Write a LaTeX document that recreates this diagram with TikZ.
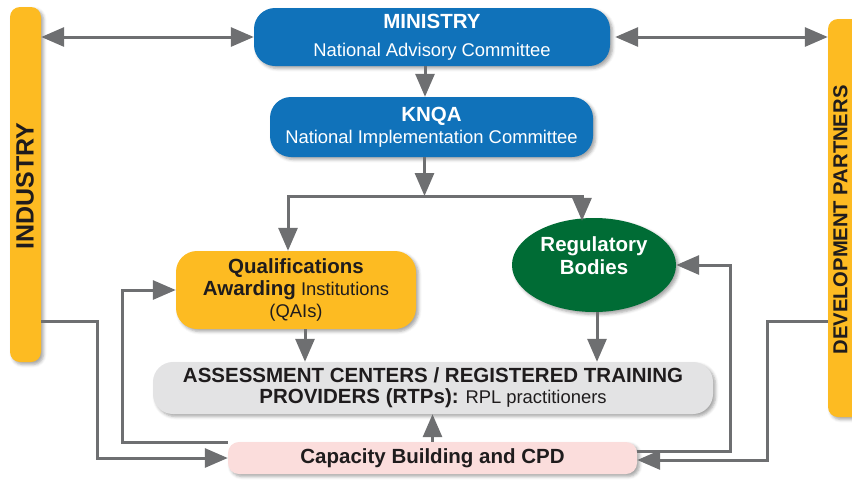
\documentclass[tikz,border=0pt]{standalone}
\usepackage{fontspec}
\setmainfont{Liberation Sans}
\usetikzlibrary{arrows.meta,shapes.geometric,shadows.blur}

\definecolor{kblue}{HTML}{1072BA}
\definecolor{kyellow}{HTML}{FDBB22}
\definecolor{kgreen}{HTML}{006C35}
\definecolor{kgrey}{HTML}{E3E3E4}
\definecolor{kpink}{HTML}{FBDDDC}
\definecolor{arrowgrey}{HTML}{6E6F71}
\definecolor{ink}{HTML}{1F1C1D}

\newcommand{\bigbold}[1]{{\bfseries\fontsize{20.5}{22}\selectfont #1}}

\tikzset{
  tip/.tip={Triangle[length=23pt,width=19pt]},
  flow/.style={draw=arrowgrey, line width=3pt, -tip},
  twoway/.style={draw=arrowgrey, line width=3pt, tip-tip},
  softshadow/.style={blur shadow={shadow xshift=2.5pt, shadow yshift=-2.5pt,
      shadow blur radius=3pt, shadow opacity=35}},
  label text/.style={align=center, inner sep=0pt, text=ink,
      font=\fontsize{18.4}{22}\selectfont},
  panel/.style={softshadow, label text},
  bar/.style={softshadow, fill=kyellow, rounded corners=10pt, inner sep=0pt},
  bartext/.style={text=ink, font=\bfseries, inner sep=0pt}
}

\begin{document}
\begin{tikzpicture}[x=1pt, y=-1pt]
  \useasboundingbox (0,0) rectangle (852,480);
  \clip (0,0) rectangle (852,480);

  % side bars
  \node[bar, minimum width=31pt, minimum height=355pt] (ind) at (25.5,184.5) {};
  \node[bartext, rotate=90, font=\bfseries\fontsize{25}{25}\selectfont] (indlabel) at (25,186) {INDUSTRY};
  \node[bar, minimum width=48pt, minimum height=398pt] (dev) at (852,218) {};
  \node[bartext, rotate=90, font=\bfseries\fontsize{20.2}{20}\selectfont] (devlabel) at (840.5,220) {DEVELOPMENT PARTNERS};

  % governance boxes
  \node[panel, fill=kblue, text=white, rounded corners=21pt,
        minimum width=356pt, minimum height=58pt,
        font=\fontsize{18.4}{28}\selectfont] (min) at (432,37)
        {\bigbold{MINISTRY}\\National Advisory Committee};
  \node[panel, fill=kblue, text=white, rounded corners=21pt,
        minimum width=323pt, minimum height=60pt] (knqa) at (431.5,127)
        {\bigbold{KNQA}\\National Implementation Committee};

  % second level
  \node[panel, fill=kyellow, rounded corners=21pt,
        minimum width=240pt, minimum height=78pt] (qai) at (296,290)
        {\bigbold{Qualifications}\\\bigbold{Awarding} Institutions\\(QAIs)};
  \node[softshadow, ellipse, fill=kgreen, inner sep=0pt,
        minimum width=164pt, minimum height=94pt] (reg) at (594,265) {};
  \node[label text, text=white, font=\bfseries\fontsize{20.5}{23}\selectfont] (regtext) at (594,256)
        {Regulatory\\Bodies};

  % delivery level
  \node[panel, fill=kgrey, rounded corners=20pt,
        minimum width=560pt, minimum height=52pt,
        font=\fontsize{18.4}{21}\selectfont] (assess) at (433,388)
        {\bigbold{ASSESSMENT CENTERS / REGISTERED TRAINING}\\
         \bigbold{PROVIDERS (RTPs):} RPL practitioners};
  \node[panel, fill=kpink, rounded corners=11pt,
        minimum width=409pt, minimum height=32pt] (cap) at (432.5,458)
        {\bigbold{Capacity Building and CPD}};

  % links with the side partners
  \draw[twoway] (min.west) -- (min.west -| ind.east);
  \draw[twoway] ([xshift=5pt]min.east) -- (min.east -| dev.west);

  % top-down flow
  \draw[flow] ([xshift=-7pt]min.south) -- ([xshift=-7pt]min.south |- knqa.north);
  \coordinate (split) at (424.5,196);
  \draw[flow] ([xshift=-7pt]knqa.south) -- (split);
  \draw[flow] (split) -| ([xshift=-8pt]qai.north);
  \draw[flow] (split) -| ([xshift=-12pt,yshift=-3pt]reg.north);
  \draw[flow] ([xshift=9pt]qai.south) -- ([xshift=9pt]qai.south |- assess.north);
  \draw[flow] ([xshift=3pt]reg.south) -- ([xshift=3pt]reg.south |- assess.north);
  \draw[flow] (cap.north) -- (cap.north |- assess.south);

  % capacity building loops
  \draw[flow] ([yshift=-1pt]cap.north west) -| ([xshift=-53pt]qai.west) -- (qai.west);
  \draw[flow] ([yshift=-136.5pt]ind.east) -| ([xshift=-130pt]cap.west) -- (cap.west);
  \draw[flow] ([yshift=-103pt]dev.west) -| ([xshift=130pt,yshift=-2pt]cap.east) -- ([yshift=-2pt]cap.east);
  \draw[flow] ([yshift=7pt]cap.east) -| ([xshift=54pt]reg.east) -- (reg.east);
\end{tikzpicture}
\end{document}
